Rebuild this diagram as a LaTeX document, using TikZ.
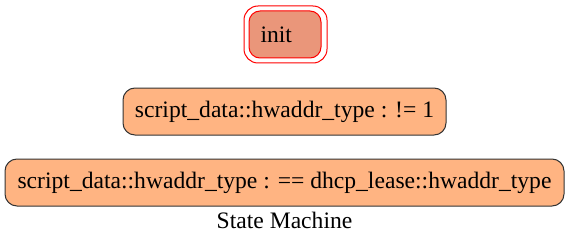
\documentclass[tikz,border=0pt]{standalone}
\usepackage{fontspec}
\setmainfont{Liberation Serif}
\usetikzlibrary{positioning}

\definecolor{initfill}{HTML}{EA967A}
\definecolor{statefill}{HTML}{FFB482}

\tikzset{
  label font/.style={font=\fontsize{23.6}{26}\selectfont},
  state/.style={draw=black!80, line width=1pt, fill=statefill, rounded corners=12pt,
    minimum height=47pt, inner sep=0pt, label font},
  initstate/.style={draw=red, line width=1pt, fill=initfill, rounded corners=11pt,
    minimum width=72pt, minimum height=47pt, inner sep=0pt},
}

\begin{document}
\begin{tikzpicture}[x=1pt, y=1pt]
\useasboundingbox (0,0) rectangle (569,244);

% start state, double red border
\draw[red, line width=1pt, rounded corners=14pt] (244,181) rectangle (327,238);
\node[initstate] (init) at (285,209.5) {};
\node[anchor=west, label font] (inittext) at (257,209.5) {init};

\node[state, minimum width=323pt] (neq) at (284.5,132.5) {script\_data::hwaddr\_type : != 1};
\node[state, minimum width=559pt] (eq) at (284.5,61.5) {script\_data::hwaddr\_type : == dhcp\_lease::hwaddr\_type};

\node[label font] (title) at (284.5,24) {State Machine};

\end{tikzpicture}
\end{document}
